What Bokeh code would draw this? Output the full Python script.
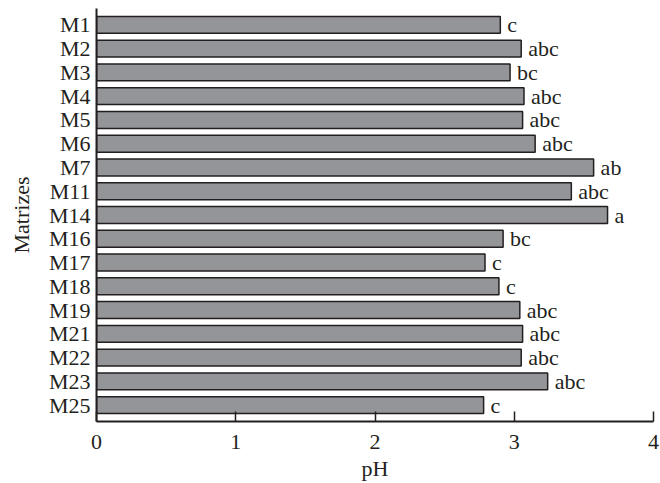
from bokeh.plotting import figure
from bokeh.models import ColumnDataSource, FactorRange, Range1d
from bokeh.core.properties import value
from bokeh.embed import file_html
from bokeh.resources import INLINE

# pH per matrix, with the significance letters
matrices = ["M1", "M2", "M3", "M4", "M5", "M6", "M7", "M11", "M14",
            "M16", "M17", "M18", "M19", "M21", "M22", "M23", "M25"]
ph_values = [2.90, 3.05, 2.97, 3.07, 3.06, 3.15, 3.57, 3.41, 3.67,
             2.92, 2.79, 2.89, 3.04, 3.06, 3.05, 3.24, 2.78]
letters = ["c", "abc", "bc", "abc", "abc", "abc", "ab", "abc", "a",
           "bc", "c", "c", "abc", "abc", "abc", "abc", "c"]
x_ticks = [0, 1, 2, 3, 4]

FONT = "Liberation Serif"
FS = "22px"
INK = "#231f20"

src = ColumnDataSource(dict(m=matrices, ph=ph_values, lab=letters))

p = figure(width=660, height=483, title_location=None,
           y_range=FactorRange(factors=list(reversed(matrices)),
                               range_padding=0.19,
                               range_padding_units="absolute"),
           x_range=Range1d(0, 4),
           output_backend="svg", toolbar_location=None,
           min_border_top=8, min_border_right=7, min_border_left=96,
           min_border_bottom=10)

p.hbar(y="m", right="ph", left=0, height=0.71, source=src,
       fill_color="#939598", line_color=INK, line_width=1.5)

p.text(x="ph", y="m", text="lab", source=src, x_offset=7,
       text_baseline="middle", text_align="left",
       text_font=value(FONT), text_font_size=FS, text_color=INK)

p.outline_line_color = None
p.xgrid.grid_line_color = None
p.ygrid.grid_line_color = None
p.background_fill_color = "white"
p.border_fill_color = "white"

xa = p.xaxis[0]
xa.ticker = x_ticks
xa.ticker.num_minor_ticks = 5
xa.axis_label = "pH"
xa.axis_line_color = INK
xa.axis_line_width = 2
xa.major_tick_in = 10
xa.major_tick_out = 0
xa.minor_tick_in = 5
xa.minor_tick_out = 0
xa.major_tick_line_color = INK
xa.major_tick_line_width = 1.5
xa.minor_tick_line_color = INK
xa.minor_tick_line_width = 1.5
xa.major_label_standoff = 13
xa.major_label_text_font = FONT
xa.major_label_text_font_size = FS
xa.major_label_text_color = INK
xa.axis_label_text_font = FONT
xa.axis_label_text_font_size = FS
xa.axis_label_text_font_style = "normal"
xa.axis_label_text_color = INK
xa.axis_label_standoff = 4

ya = p.yaxis[0]
ya.axis_label = "Matrizes"
ya.axis_line_color = INK
ya.axis_line_width = 2
ya.major_tick_line_color = None
ya.minor_tick_line_color = None
ya.major_tick_in = 0
ya.major_tick_out = 0
ya.major_label_standoff = 6
ya.major_label_text_font = FONT
ya.major_label_text_font_size = FS
ya.major_label_text_color = INK
ya.axis_label_text_font = FONT
ya.axis_label_text_font_size = FS
ya.axis_label_text_font_style = "normal"
ya.axis_label_text_color = INK
ya.axis_label_standoff = 12

open("out.html", "w").write(file_html(p, INLINE))
